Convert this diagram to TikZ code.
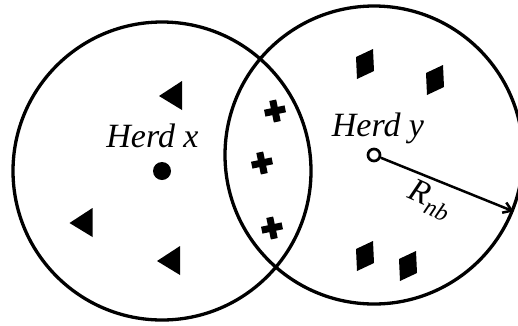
\documentclass[tikz,border=0pt]{standalone}
\usepackage{fontspec}
\setmainfont{Liberation Serif}
\usetikzlibrary{arrows.meta}
\tikzset{
  herd/.style={circle,draw,line width=3.3pt,inner sep=0pt,minimum size=298pt},
  lbl/.style={font=\fontsize{34}{40}\selectfont\itshape,inner sep=0pt},
  rlbl/.style={font=\fontsize{33}{36}\selectfont\itshape,inner sep=0pt},
  tri/.pic={\fill (0,-14.5) -- (0,14.5) -- (-23,0.5) -- cycle;},
  plusmark/.pic={\begin{scope}[rotate=12]
      \fill (-10.5,-3.5) rectangle (10.5,3.5);
      \fill (-3.5,-11) rectangle (3.5,11);
    \end{scope}},
  rhomb/.pic={\fill (-9,-7) -- (8,-15) -- (9,7) -- (-8,15) -- cycle;}
}
\begin{document}
\begin{tikzpicture}[x=1pt,y=-1pt]
\useasboundingbox (0,0) rectangle (518,325);
% herds
\node[herd] (hx) at (162,171) {};
\node[herd] (hy) at (374,155) {};
% centres
\node[circle,fill,inner sep=0pt,minimum size=18pt] (cx) at (162,171) {};
\node[circle,draw,line width=2.7pt,fill=white,inner sep=0pt,minimum size=12pt] (cy) at (374,155) {};
% labels
\node[lbl,anchor=base] (lx) at (152.5,147.5) {Herd x};
\node[lbl,anchor=base] (ly) at (378,136) {Herd y};
% radius arrow
\draw[line width=2.5pt,-{Straight Barb[length=8pt,width=11pt,line width=2.5pt]}] (cy) -- (hy.-22);
\node[rlbl,rotate=-24] (rnb) at (430,200) {R\raisebox{-7pt}{\fontsize{24}{26}\selectfont nb}};
% herd x members
\pic at (182,95.5) {tri};
\pic at (92.5,222.5) {tri};
\pic at (180,260.5) {tri};
% shared members
\pic at (275,111) {plusmark};
\pic at (262,163) {plusmark};
\pic at (272,228) {plusmark};
% herd y members
\pic at (365,64) {rhomb};
\pic at (435,80) {rhomb};
\pic at (365,256) {rhomb};
\pic at (408,266) {rhomb};
\end{tikzpicture}
\end{document}
